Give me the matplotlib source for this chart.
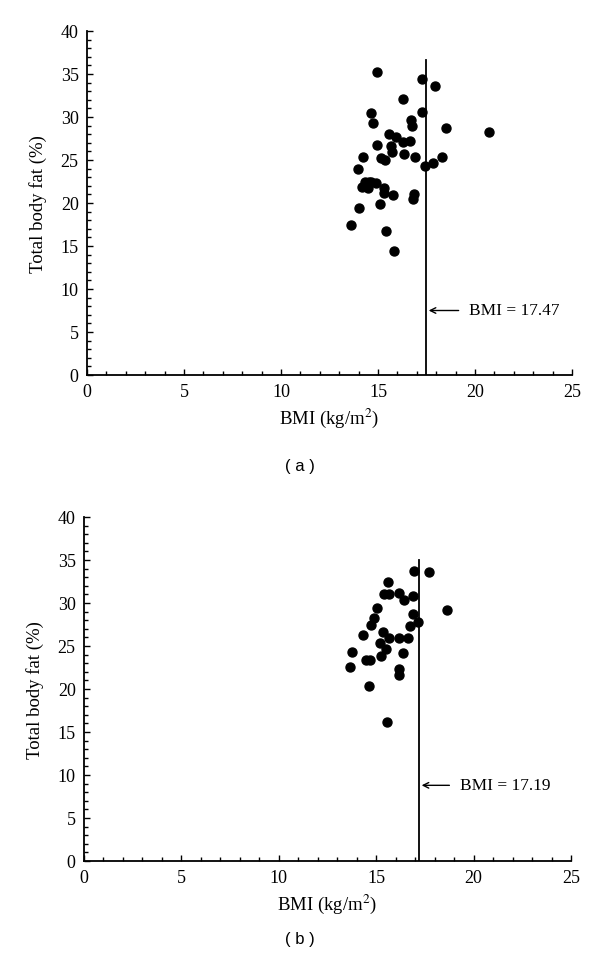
import matplotlib.pyplot as plt
from matplotlib.ticker import MultipleLocator

plt.rcParams['mathtext.fontset'] = 'stix'

# panel (a) data
bmi_a = [14.96, 17.29, 17.92, 16.30, 14.64, 17.25, 14.72, 16.72, 16.76, 18.48,
         20.71, 15.59, 15.95, 16.28, 16.66, 14.94, 15.65, 15.73, 16.34, 16.92,
         14.25, 15.18, 15.37, 18.28, 17.85, 17.43, 13.97, 14.33, 14.53, 14.17,
         14.47, 14.64, 14.92, 15.30, 15.32, 15.75, 16.84, 16.80, 15.08, 14.01,
         13.60, 15.40, 15.85]
fat_a = [35.2, 34.4, 33.65, 32.1, 30.5, 30.6, 29.3, 29.6, 29.0, 28.7,
         28.2, 28.0, 27.7, 27.1, 27.2, 26.8, 26.6, 25.9, 25.7, 25.4,
         25.4, 25.2, 25.0, 25.4, 24.6, 24.3, 24.0, 22.5, 22.4, 21.9,
         21.7, 22.4, 22.3, 21.7, 21.2, 20.9, 21.1, 20.5, 19.9, 19.4,
         17.5, 16.75, 14.4]
cut_a = 17.47
top_a = 36.6

# panel (b) data
bmi_b = [16.94, 17.73, 15.63, 15.41, 15.68, 16.18, 16.90, 16.45, 15.02, 18.63,
         14.88, 16.90, 14.74, 17.14, 16.71, 14.33, 15.33, 15.67, 16.16, 16.63,
         15.21, 15.52, 13.74, 16.37, 14.49, 14.68, 15.23, 13.66, 16.16, 16.16,
         14.62, 15.55]
fat_b = [33.7, 33.6, 32.5, 31.1, 31.1, 31.2, 30.8, 30.4, 29.4, 29.2,
         28.2, 28.7, 27.5, 27.8, 27.3, 26.3, 26.6, 25.9, 25.9, 25.9,
         25.3, 24.7, 24.3, 24.2, 23.4, 23.4, 23.8, 22.6, 22.3, 21.6,
         20.4, 16.2]
cut_b = 17.19
top_b = 35.0

panels = [
    (bmi_a, fat_a, cut_a, top_a, 7.5, 19.3, '( a )'),
    (bmi_b, fat_b, cut_b, top_b, 8.8, 18.9, '( b )'),
]

serif = 'Liberation Serif'
fig = plt.figure(figsize=(6, 9.7), dpi=100)

# axes boxes in pixels: left, top, right, bottom
boxes = [(87, 32, 572, 376), (84, 518, 571, 862)]
caption_y = [466, 940]

for (x, y, cut, top, ay, tail, cap), (l, t, r, b), cy in zip(panels, boxes, caption_y):
    ax = fig.add_axes([l / 600, 1 - b / 970, (r - l) / 600, (b - t) / 970])
    ax.scatter(x, y, s=42, color='black', zorder=3)
    ax.plot([cut, cut], [0, top], color='black', lw=1.3)
    ax.annotate('', xy=(cut, ay), xytext=(tail, ay),
                arrowprops=dict(arrowstyle='->', color='black', lw=1.0))
    ax.text(tail + 0.4, ay, 'BMI = %.2f' % cut, va='center', ha='left',
            fontsize=12.5, family=serif)
    ax.set_xlim(0, 25)
    ax.set_ylim(0, 40)
    ax.xaxis.set_major_locator(MultipleLocator(5))
    ax.xaxis.set_minor_locator(MultipleLocator(1))
    ax.yaxis.set_major_locator(MultipleLocator(5))
    ax.yaxis.set_minor_locator(MultipleLocator(1))
    ax.tick_params(which='both', direction='in', length=4, width=1.0,
                   labelsize=13, pad=6)
    ax.tick_params(which='minor', length=3)
    for lab in ax.get_xticklabels() + ax.get_yticklabels():
        lab.set_family(serif)
    ax.spines['top'].set_visible(False)
    ax.spines['right'].set_visible(False)
    ax.spines['left'].set_linewidth(1.3)
    ax.spines['bottom'].set_linewidth(1.3)
    ax.set_xlabel('BMI (kg/m$^2$)', fontsize=13.5, family=serif, labelpad=4)
    ax.set_ylabel('Total body fat (%)', fontsize=13.5, family=serif, labelpad=10)
    fig.text(0.5, 1 - cy / 970, cap, ha='center', va='center', fontsize=12,
             family='Liberation Sans')

fig.savefig('out.png', dpi=100)
